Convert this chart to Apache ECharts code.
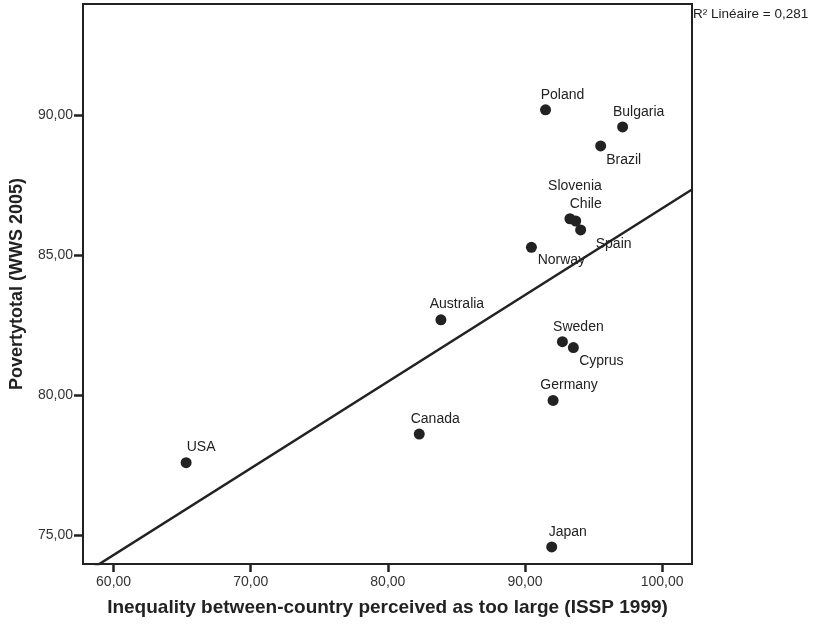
<!DOCTYPE html>
<html>
<head>
<meta charset="utf-8">
<script src="https://cdn.jsdelivr.net/npm/echarts@6/dist/echarts.min.js"></script>
<style>
html,body{margin:0;padding:0;background:#fff;}
#chart{width:819px;height:630px;}
</style>
</head>
<body>
<div id="chart"></div>
<script>
// ---- data ----
var countries = ['USA','Canada','Australia','Sweden','Cyprus','Germany','Japan','Poland','Bulgaria','Brazil','Slovenia','Chile','Spain','Norway'];
var inequality = [65.29, 82.29, 83.87, 92.73, 93.53, 92.05, 91.95, 91.50, 97.12, 95.52, 93.28, 93.70, 94.06, 90.47];
var poverty    = [77.58, 78.60, 82.68, 81.90, 81.69, 79.80, 74.57, 90.18, 89.57, 88.89, 86.29, 86.21, 85.89, 85.27];
var xTicks = [60, 70, 80, 90, 100];
var yTicks = [75, 80, 85, 90];
var r2Text = 'R\u00B2 Lin\u00e9aire = 0,281';

// ---- label placement (layout only) ----
var labelOffsets = {
  'USA':[15,-15], 'Canada':[16,-15], 'Australia':[16,-16], 'Sweden':[16,-15],
  'Cyprus':[28,14], 'Germany':[16,-15], 'Japan':[16,-15], 'Poland':[17,-15],
  'Bulgaria':[16,-15], 'Brazil':[23,14], 'Slovenia':[5,-33], 'Chile':[10,-17],
  'Spain':[33,14], 'Norway':[30,13]
};

var xMin = 57.77, xMax = 102.18, yMin = 73.96, yMax = 93.96;

// least squares fit line
var n = inequality.length, mx = 0, my = 0;
for (var i = 0; i < n; i++) { mx += inequality[i]; my += poverty[i]; }
mx /= n; my /= n;
var sxx = 0, sxy = 0;
for (var i = 0; i < n; i++) { sxx += (inequality[i]-mx)*(inequality[i]-mx); sxy += (inequality[i]-mx)*(poverty[i]-my); }
var slope = sxy / sxx, icpt = my - slope * mx;
var fitData = [[xMin, icpt + slope * xMin], [xMax, icpt + slope * xMax]];

var pts = countries.map(function (c, i) {
  return { name: c, value: [inequality[i], poverty[i]], label: { offset: labelOffsets[c] } };
});

function fmt(v) { return v.toFixed(2).replace('.', ','); }

var font = 'Liberation Sans, Arial, sans-serif';
var chart = echarts.init(document.getElementById('chart'));
chart.setOption({
  backgroundColor: '#fff',
  animation: false,
  grid: { left: 82, right: 127, top: 4, bottom: 66, show: true, borderColor: '#222', borderWidth: 2, backgroundColor: 'transparent' },
  xAxis: {
    type: 'value', min: xMin, max: xMax,
    name: 'Inequality between-country perceived as too large (ISSP 1999)',
    nameLocation: 'middle', nameGap: 34,
    nameTextStyle: { fontFamily: font, fontWeight: 'bold', fontSize: 19, color: '#222' },
    axisLine: { show: true, onZero: false, lineStyle: { color: '#222', width: 2 } },
    axisTick: { show: true, length: 8, lineStyle: { color: '#222', width: 2.5 }, customValues: xTicks },
    axisLabel: { show: true, margin: 11, fontFamily: font, fontSize: 14, color: '#333', formatter: fmt, customValues: xTicks },
    splitLine: { show: false }
  },
  yAxis: {
    type: 'value', min: yMin, max: yMax,
    name: 'Povertytotal (WWS 2005)',
    nameLocation: 'middle', nameGap: 57, nameRotate: 90,
    nameTextStyle: { fontFamily: font, fontWeight: 'bold', fontSize: 18, color: '#222' },
    axisLine: { show: true, onZero: false, lineStyle: { color: '#222', width: 2 } },
    axisTick: { show: true, length: 9, lineStyle: { color: '#222', width: 2.5 }, customValues: yTicks },
    axisLabel: { show: true, margin: 10, fontFamily: font, fontSize: 14, color: '#333', formatter: fmt, customValues: yTicks },
    splitLine: { show: false }
  },
  graphic: [{
    type: 'text', left: 693, top: 7,
    style: { text: r2Text, fontFamily: font, fontSize: 13.5, fill: '#222' }
  }],
  series: [{
    type: 'line', data: fitData, showSymbol: false, symbol: 'none', clip: true, silent: true,
    lineStyle: { color: '#222', width: 2.5 }, z: 2
  }, {
    type: 'scatter', data: pts, symbolSize: 11, clip: true,
    itemStyle: { color: '#222', opacity: 1 },
    label: { show: true, position: 'inside', formatter: '{b}', fontFamily: font, fontSize: 14, color: '#222' },
    z: 3
  }]
});
</script>
</body>
</html>
